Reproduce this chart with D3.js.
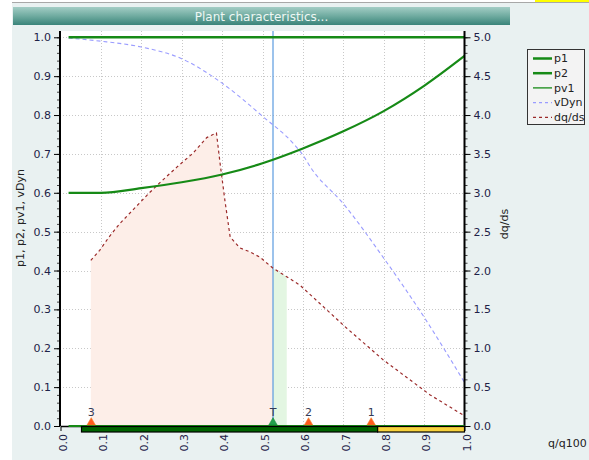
<!DOCTYPE html>
<html>
  <head>
    <meta charset="utf-8">
    <title>Plant characteristics</title>
    <script src="https://d3js.org/d3.v7.min.js"></script>
    <style>
      body { margin: 0; background: #fff; }
      text { font-family: "DejaVu Sans", Verdana, sans-serif; }
    </style>
  </head>
  <body>
    <div id="wrapper"></div>
    <script>
      // --- data ---
      var pv1Q   = [0.02, 0.1, 0.2, 0.3, 0.4, 0.5, 0.6, 0.7, 0.8, 0.9, 1.0];
      var pv1Val = [0.600, 0.600, 0.612, 0.627, 0.647, 0.676, 0.714, 0.758, 0.810, 0.875, 0.952];

      var p1Q   = [0.02, 1.0];
      var p1Val = [1.0, 1.0];
      var p2Q   = [0.02, 1.0];
      var p2Val = [0.0, 0.0];

      var vDynQ   = [0.02, 0.1, 0.2, 0.3, 0.4, 0.5, 0.576, 0.6, 0.62, 0.7, 0.8, 0.9, 1.0];
      var vDynVal = [0.998, 0.99, 0.975, 0.945, 0.882, 0.797, 0.727, 0.697, 0.664, 0.572, 0.432, 0.28, 0.112];

      var dqdsQ   = [0.075, 0.097, 0.12, 0.146, 0.196, 0.22, 0.246, 0.288, 0.328, 0.362, 0.386, 0.395, 0.407, 0.42, 0.444, 0.469, 0.494, 0.526, 0.56, 0.593, 0.708, 0.799, 0.915, 1.0];
      var dqdsVal = [2.13, 2.26, 2.43, 2.6, 2.87, 3.0, 3.13, 3.33, 3.51, 3.71, 3.77, 3.38, 2.9, 2.43, 2.29, 2.24, 2.17, 2.03, 1.92, 1.81, 1.26, 0.85, 0.40, 0.13];

      var fillStart = 0.075, tPoint = 0.526, fillEnd = 0.56;

      var markerQ     = [0.076, 0.526, 0.614, 0.769];
      var markerLabel = ["3", "T", "2", "1"];
      var markerKind  = ["op", "t", "op", "op"];

      var barFrom  = [0.052, 0.785];
      var barTo    = [0.785, 1.0];
      var barColor = ["#006400", "#f7d23c"];

      var leftTicks  = d3.range(0, 1.0001, 0.1);
      var rightTicks = d3.range(0, 5.0001, 0.5);
      var xTicks     = d3.range(0, 1.0001, 0.1);

      var legendNames = ["p1", "p2", "pv1", "vDyn", "dq/ds"];

      // --- setup ---
      var W = 589, H = 460;
      var svg = d3.select("#wrapper").append("svg")
                  .attr("width", W).attr("height", H);

      var x  = d3.scaleLinear().domain([0, 1]).range([60.5, 464.5]);
      var yL = d3.scaleLinear().domain([0, 1]).range([426, 37.3]);
      var yR = d3.scaleLinear().domain([0, 5]).range([426, 37.3]);

      // panel background
      svg.append("rect").attr("x", 12).attr("y", 3).attr("width", W - 12).attr("height", H - 3)
         .attr("fill", "#e9f1f1");
      svg.append("line").attr("x1", 12).attr("x2", W).attr("y1", 2.5).attr("y2", 2.5)
         .attr("stroke", "#a8a8a8").attr("stroke-width", 1);
      svg.append("rect").attr("x", 535).attr("y", 0).attr("width", W - 535).attr("height", 2)
         .attr("fill", "#ffff00");

      // title bar
      var grad = svg.append("defs").append("linearGradient")
                    .attr("id", "titleGrad").attr("x1", 0).attr("x2", 0).attr("y1", 0).attr("y2", 1);
      grad.append("stop").attr("offset", "0%").attr("stop-color", "#a3cdc5");
      grad.append("stop").attr("offset", "50%").attr("stop-color", "#6faba0");
      grad.append("stop").attr("offset", "100%").attr("stop-color", "#3a847a");
      svg.append("rect").attr("x", 13).attr("y", 7).attr("width", 497).attr("height", 18)
         .attr("fill", "url(#titleGrad)");
      svg.append("text").attr("x", 261.5).attr("y", 20.5)
         .attr("text-anchor", "middle").attr("fill", "#eef7f4")
         .style("font-size", "12px")
         .text("Plant characteristics...");

      // plot area
      svg.append("rect").attr("x", 60).attr("y", 31).attr("width", 404.5).attr("height", 395)
         .attr("fill", "#fff");

      // grid
      var grid = svg.append("g").attr("stroke", "#c8c8c8").attr("stroke-dasharray", "1,2");
      grid.selectAll(".gx").data(xTicks.slice(1, -1)).enter().append("line")
          .attr("x1", function(d){ return Math.round(x(d)) + 0.5; })
          .attr("x2", function(d){ return Math.round(x(d)) + 0.5; })
          .attr("y1", 31).attr("y2", 426);
      grid.selectAll(".gy").data(leftTicks.slice(1)).enter().append("line")
          .attr("x1", 60).attr("x2", 464)
          .attr("y1", function(d){ return Math.round(yL(d)) + 0.5; })
          .attr("y2", function(d){ return Math.round(yL(d)) + 0.5; });

      // fills under dq/ds
      var pts = dqdsQ.map(function(q, i){ return {q: q, v: dqdsVal[i]}; });
      var area = d3.area().x(function(d){ return x(d.q); })
                   .y0(yR(0)).y1(function(d){ return yR(d.v); });
      svg.append("path")
         .datum(pts.filter(function(d){ return d.q >= fillStart && d.q <= tPoint; }))
         .attr("d", area).attr("fill", "#fdeee8");
      svg.append("path")
         .datum(pts.filter(function(d){ return d.q >= tPoint && d.q <= fillEnd; }))
         .attr("d", area).attr("fill", "#e3f6e2");

      // T line
      svg.append("line").attr("x1", x(tPoint)).attr("x2", x(tPoint))
         .attr("y1", 31).attr("y2", 426)
         .attr("stroke", "#5b9be0").attr("stroke-width", 1.2);

      // series
      function series(qs, vs, scale, curve) {
        return d3.line().curve(curve || d3.curveLinear)
                 .x(function(d){ return x(d[0]); })
                 .y(function(d){ return scale(d[1]); })(qs.map(function(q, i){ return [q, vs[i]]; }));
      }

      svg.append("path").attr("d", series(vDynQ, vDynVal, yL, d3.curveMonotoneX))
         .attr("fill", "none").attr("stroke", "#9a9cff").attr("stroke-width", 1.1)
         .attr("stroke-dasharray", "4,3");
      svg.append("path").attr("d", series(dqdsQ, dqdsVal, yR))
         .attr("fill", "none").attr("stroke", "#9b2a2a").attr("stroke-width", 1.2)
         .attr("stroke-dasharray", "3,3");
      svg.append("path").attr("d", series(pv1Q, pv1Val, yL, d3.curveMonotoneX))
         .attr("fill", "none").attr("stroke", "#168a16").attr("stroke-width", 2.2);
      svg.append("path").attr("d", series(p1Q, p1Val, yL))
         .attr("fill", "none").attr("stroke", "#168a16").attr("stroke-width", 2.5);

      // axes
      function styleAxis(g) {
        g.select(".domain").attr("stroke", "#000").attr("stroke-width", 2);
        g.selectAll(".tick line").attr("stroke", "#000");
        g.selectAll(".tick text").attr("fill", "#1e2248").style("font-size", "11px")
         .style("font-family", "DejaVu Sans, sans-serif");
      }

      var minorL = svg.append("g").attr("transform", "translate(60,0)")
         .call(d3.axisLeft(yL).tickValues(d3.range(0, 1.0001, 0.02)).tickSize(3).tickFormat(""));
      minorL.select(".domain").remove();
      minorL.selectAll(".tick line").attr("stroke", "#444");

      var leftAx = svg.append("g").attr("transform", "translate(60,0)")
         .call(d3.axisLeft(yL).tickValues(leftTicks).tickSize(6).tickSizeOuter(0)
                 .tickFormat(d3.format(".1f")));
      styleAxis(leftAx);
      leftAx.select(".domain").attr("d", "M0,31V426");

      var minorR = svg.append("g").attr("transform", "translate(464.5,0)")
         .call(d3.axisRight(yR).tickValues(d3.range(0, 5.0001, 0.1)).tickSize(3).tickFormat(""));
      minorR.select(".domain").remove();
      minorR.selectAll(".tick line").attr("stroke", "#444");

      var rightAx = svg.append("g").attr("transform", "translate(464.5,0)")
         .call(d3.axisRight(yR).tickValues(rightTicks).tickSize(6).tickSizeOuter(0)
                 .tickFormat(d3.format(".1f")));
      styleAxis(rightAx);
      rightAx.select(".domain").attr("d", "M0,31V426");

      var bottomAx = svg.append("g").attr("transform", "translate(0,426)")
         .call(d3.axisBottom(x).tickValues(xTicks).tickSize(5).tickSizeOuter(0)
                 .tickFormat(d3.format(".1f")));
      styleAxis(bottomAx);
      bottomAx.select(".domain").attr("stroke-width", 1.5);
      bottomAx.selectAll(".tick text")
         .attr("transform", "translate(2,8) rotate(-90)")
         .attr("text-anchor", "end").attr("x", 0).attr("y", 0).attr("dy", "0.35em");

      // p2 along zero
      svg.append("path").attr("d", series(p2Q, p2Val, yL))
         .attr("fill", "none").attr("stroke", "#168a16").attr("stroke-width", 2.2);

      // bottom status bar
      svg.selectAll(".bar").data(barFrom).enter().append("rect")
         .attr("x", function(d){ return x(d); })
         .attr("width", function(d, i){ return x(barTo[i]) - x(d); })
         .attr("y", 426.5).attr("height", 5.5)
         .attr("fill", function(d, i){ return barColor[i]; })
         .attr("stroke", "#000").attr("stroke-width", 1.2);

      // operating point markers
      var tri = d3.symbol().type(d3.symbolTriangle).size(30);
      var mk = svg.selectAll(".mk").data(markerQ).enter().append("g")
         .attr("transform", function(d){ return "translate(" + x(d) + ",422.5)"; });
      mk.append("path").attr("d", tri)
         .attr("fill", function(d, i){ return markerKind[i] == "t" ? "#22a04a" : "#ff5a1e"; })
         .attr("stroke", function(d, i){ return markerKind[i] == "t" ? "#138a38" : "#f08020"; })
         .attr("stroke-width", 0.6);
      mk.append("text").attr("y", -7).attr("text-anchor", "middle")
         .attr("fill", "#333a55").style("font-size", "11px")
         .text(function(d, i){ return markerLabel[i]; });

      // axis titles
      svg.append("text").attr("transform", "translate(24,218) rotate(-90)")
         .attr("text-anchor", "middle").attr("fill", "#222").style("font-size", "11px")
         .text("p1, p2, pv1, vDyn");
      svg.append("text").attr("transform", "translate(508,224) rotate(-90)")
         .attr("text-anchor", "middle").attr("fill", "#222").style("font-size", "11px")
         .text("dq/ds");
      svg.append("text").attr("x", 548).attr("y", 447)
         .attr("fill", "#222").style("font-size", "11px")
         .text("q/q100");

      // legend
      var lg = svg.append("g");
      lg.append("rect").attr("x", 527.5).attr("y", 49.5).attr("width", 57).attr("height", 75)
        .attr("fill", "#f3f3f3").attr("stroke", "#333").attr("stroke-width", 1);
      var lgStroke = ["#168a16", "#168a16", "#168a16", "#9a9cff", "#9b2a2a"];
      var lgWidth  = [2.5, 2.5, 1.3, 1.1, 1.2];
      var lgDash   = [null, null, null, "3,3", "3,3"];
      var rows = lg.selectAll(".row").data(legendNames).enter().append("g")
        .attr("transform", function(d, i){ return "translate(0," + (58.5 + i * 14.7) + ")"; });
      rows.append("line").attr("x1", 533).attr("x2", 552)
        .attr("stroke", function(d, i){ return lgStroke[i]; })
        .attr("stroke-width", function(d, i){ return lgWidth[i]; })
        .attr("stroke-dasharray", function(d, i){ return lgDash[i]; });
      rows.append("text").attr("x", 554).attr("dy", "0.35em")
        .attr("fill", "#222").style("font-size", "11px")
        .text(function(d){ return d; });
    </script>
  </body>
</html>
